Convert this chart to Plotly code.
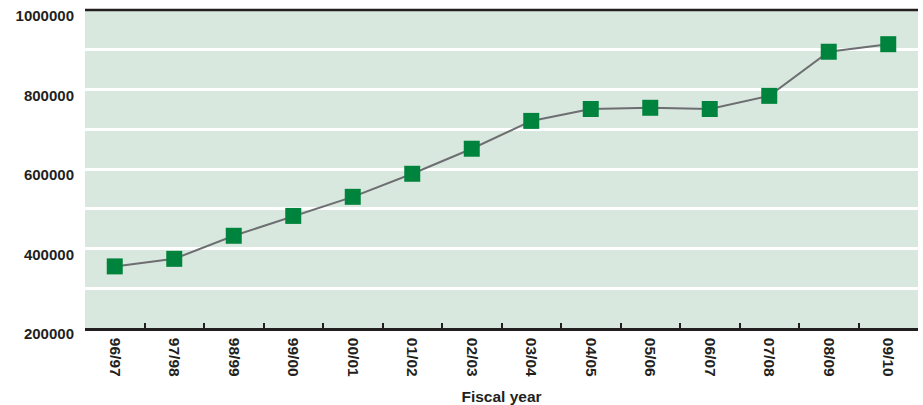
import plotly.graph_objects as go

# Fiscal years and yearly totals
fiscal_years = ["96/97", "97/98", "98/99", "99/00", "00/01", "01/02", "02/03",
                "03/04", "04/05", "05/06", "06/07", "07/08", "08/09", "09/10"]
totals = [355000, 374000, 432000, 482000, 530000, 588000, 651000,
          721000, 751000, 754000, 751000, 784000, 895000, 914000]

y_tick_values = list(range(200000, 1000001, 100000))
y_tick_labels = [str(v) if (v // 100000) % 2 == 0 else "" for v in y_tick_values]

TEXT = "#231f20"
GREEN = "#00843d"
FONT = "Liberation Sans, Arial, sans-serif"

fig = go.Figure()
fig.add_trace(go.Scatter(
    x=fiscal_years,
    y=totals,
    mode="lines+markers",
    line=dict(color="#6d6e71", width=2),
    marker=dict(symbol="square", size=16, color=GREEN),
    showlegend=False,
))

fig.update_layout(
    width=923,
    height=405,
    margin=dict(l=85, r=5, t=10, b=77),
    paper_bgcolor="white",
    plot_bgcolor="#d9e8de",
    font=dict(family=FONT, color=TEXT),
    xaxis=dict(
        type="category",
        range=[-0.5, len(fiscal_years) - 0.5],
        automargin=False,
        showgrid=False,
        ticks="inside",
        tickson="boundaries",
        ticklen=5,
        tickwidth=2,
        tickcolor=TEXT,
        showline=True,
        linecolor=TEXT,
        linewidth=2.5,
        tickangle=90,
        ticklabelstandoff=4,
        tickfont=dict(size=15.5, family=FONT, color=TEXT, weight="bold"),
        title=dict(text="<b>Fiscal year</b>", font=dict(size=15.5, color=TEXT), standoff=20),
        zeroline=False,
    ),
    yaxis=dict(
        range=[200000, 1000000],
        automargin=False,
        tickmode="array",
        tickvals=y_tick_values,
        ticktext=y_tick_labels,
        showgrid=True,
        gridcolor="white",
        gridwidth=2.5,
        ticks="",
        ticklabelshift=6,
        ticklabelstandoff=10,
        ticklabeloverflow="allow",
        tickfont=dict(size=15, family=FONT, color=TEXT, weight="bold"),
        zeroline=False,
        showline=False,
    ),
)

# Dark rule along the top edge of the plotting area
fig.add_shape(type="line", xref="paper", yref="paper", x0=0, x1=1,
              y0=1, y1=1, line=dict(color=TEXT, width=2.5))

fig.write_html("out.html")
